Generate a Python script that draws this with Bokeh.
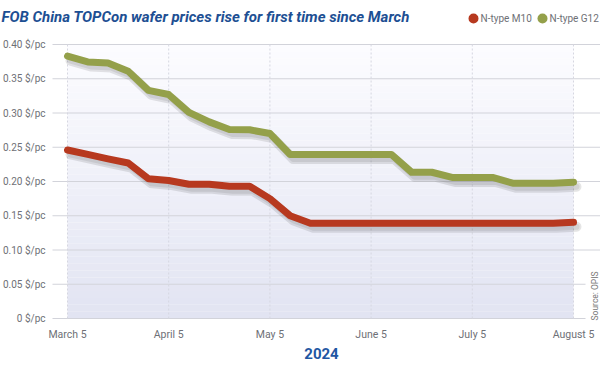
from bokeh.plotting import figure
from bokeh.embed import file_html
from bokeh.resources import INLINE
from bokeh.core.properties import value
import math

# ---- data ----
x_tick_labels = ["March 5", "April 5", "May 5", "June 5", "July 5", "August 5"]
x_tick_pos = [0, 5, 10, 15, 20, 25]
m10 = [0.246, 0.2395, 0.233, 0.227, 0.204, 0.2015, 0.196, 0.196, 0.193, 0.193,
       0.175, 0.150, 0.139, 0.139, 0.139, 0.139, 0.139, 0.139, 0.139, 0.139,
       0.139, 0.139, 0.139, 0.139, 0.139, 0.1405]
g12 = [0.383, 0.3745, 0.373, 0.361, 0.333, 0.327, 0.301, 0.287, 0.276, 0.2755,
       0.270, 0.2395, 0.2395, 0.2395, 0.2395, 0.2395, 0.2395, 0.2135, 0.2135, 0.206,
       0.206, 0.206, 0.1975, 0.1975, 0.1975, 0.199]
y_ticks = [0, 0.05, 0.10, 0.15, 0.20, 0.25, 0.30, 0.35, 0.40]
y_tick_labels = ["0 $/pc", "0.05 $/pc", "0.10 $/pc", "0.15 $/pc", "0.20 $/pc",
                 "0.25 $/pc", "0.30 $/pc", "0.35 $/pc", "0.40 $/pc"]
series_names = ["N-type M10", "N-type G12"]
title_text = "FOB China TOPCon wafer prices rise for first time since March"
year_text = "2024"
source_text = "Source: OPIS"

xs = list(range(len(m10)))

RED = "#b7391f"
GREEN = "#94a04a"
BLUE = "#1d4f93"
GRAY = "#6e7076"
FONT = value("Roboto")

# ---- layout helpers (pixel -> data), styling only ----
PX_X = 20.24    # px per x step
PX_Y = 685.0    # px per $ unit
X0, Y0 = 67.0, 318.0


def X(wx):
    return (wx - X0) / PX_X


def Y(wy):
    return (Y0 - wy) / PX_Y


p = figure(width=600, height=381, output_backend="svg", toolbar_location=None,
           x_range=(X(0), X(600)), y_range=(Y(381), Y(0)),
           x_axis_type=None, y_axis_type=None,
           min_border_left=0, min_border_right=0, min_border_top=0,
           min_border_bottom=0)
p.outline_line_color = None
p.background_fill_color = "white"
p.border_fill_color = "white"
p.grid.visible = False

# gradient band behind the plot
n = 40
top = (252, 252, 255)
bot = (226, 228, 242)
lefts, rights, bottoms, tops, cols = [], [], [], [], []
for i in range(n):
    t = i / (n - 1)
    c = tuple(int(round(top[k] + (bot[k] - top[k]) * t)) for k in range(3))
    cols.append("#%02x%02x%02x" % c)
    tops.append(y_ticks[-1] - i * y_ticks[-1] / n)
    bottoms.append(y_ticks[-1] - (i + 1) * y_ticks[-1] / n)
    lefts.append(x_tick_pos[0])
    rights.append(x_tick_pos[-1])
p.quad(left=lefts, right=rights, top=tops, bottom=bottoms, fill_color=cols,
       line_color=None)

# horizontal grid lines
p.segment(x0=[X(52)] * len(y_ticks), x1=[X(600)] * len(y_ticks), y0=y_ticks, y1=y_ticks,
          line_color="#d2d3da", line_width=1)
# vertical dotted grid lines
p.segment(x0=x_tick_pos, x1=x_tick_pos, y0=[y_ticks[0]] * len(x_tick_pos),
          y1=[y_ticks[-1]] * len(x_tick_pos), line_color="#d6d7e1", line_width=1,
          line_dash="2 2")

# white patch behind the source note
p.quad(left=[X(585)], right=[X(600)], bottom=[Y(321)], top=[Y(276)],
       fill_color="white", line_color=None)

# shadows
dx, dy = 3 / PX_X, -4.5 / PX_Y
for ser in (g12, m10):
    p.line([x + dx for x in xs], [v + dy for v in ser], line_color="#000000",
           line_alpha=0.10, line_width=10, line_join="round", line_cap="round")
    p.line([x + dx for x in xs], [v + dy for v in ser], line_color="#000000",
           line_alpha=0.08, line_width=6, line_join="round", line_cap="round")

p.line(xs, g12, line_color=GREEN, line_width=7, line_join="round", line_cap="round")
p.line(xs, m10, line_color=RED, line_width=7, line_join="round", line_cap="round")

# tick labels
p.text(x=[X(45)] * len(y_ticks), y=y_ticks, text=y_tick_labels, text_font=FONT,
       text_font_size="10px", text_color=GRAY, text_align="right",
       text_baseline="middle")
p.text(x=x_tick_pos, y=[Y(334)] * len(x_tick_pos), text=x_tick_labels, text_font=FONT,
       text_font_size="10.5px", text_color=GRAY, text_align="center",
       text_baseline="middle")

# year
p.text(x=[X(321)], y=[Y(353)], text=[year_text], text_font=FONT,
       text_font_style="bold", text_font_size="15px", text_color="#1f57a3",
       text_align="center", text_baseline="middle")

# title
p.text(x=[X(1)], y=[Y(16)], text=[title_text], text_font=FONT,
       text_font_style="bold italic", text_font_size="15px", text_color=BLUE,
       text_align="left", text_baseline="middle")

# legend
p.scatter(x=[X(473), X(542)], y=[Y(18), Y(18)], size=10, marker="circle",
          fill_color=[RED, GREEN], line_color=None)
p.text(x=[X(480), X(549)], y=[Y(18), Y(18)], text=series_names, text_font=FONT,
       text_font_size="10px", text_color=GRAY, text_align="left",
       text_baseline="middle")

# source
p.text(x=[X(594)], y=[Y(320)], text=[source_text], text_font=FONT,
       text_font_size="8.5px", text_color="#777777", angle=math.pi / 2,
       text_baseline="middle", text_align="left")

open("out.html", "w").write(file_html(p, INLINE))
